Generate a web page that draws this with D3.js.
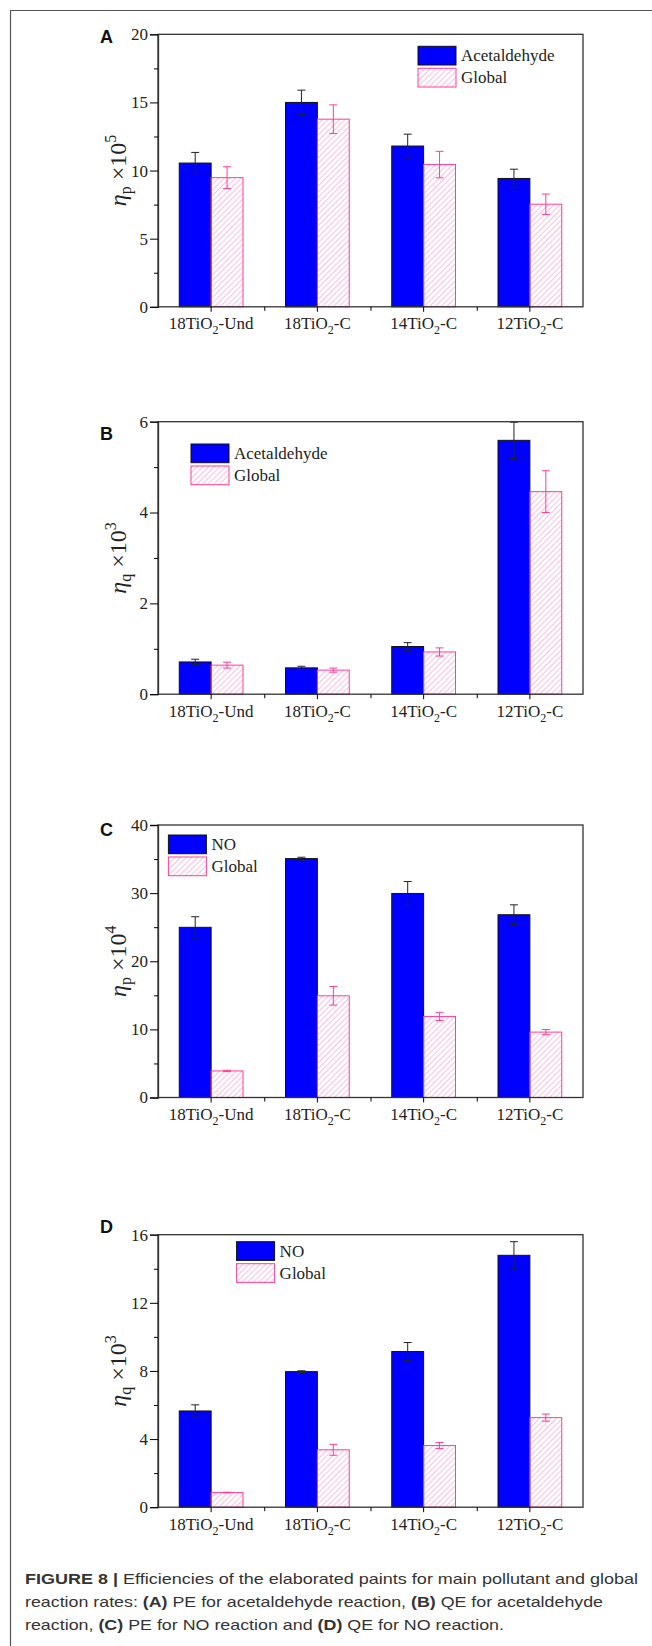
<!DOCTYPE html>
<html>
<head>
<meta charset="utf-8">
<script src="https://cdn.jsdelivr.net/npm/d3@7"></script>
<style>
  body { margin: 0; background: #fff; }
  svg { display: block; }
</style>
</head>
<body>
<div id="fig"></div>
<script>
// categories (x axis), shared by all four panels
var categories = ["18TiO2-Und", "18TiO2-C", "14TiO2-C", "12TiO2-C"];
var seriesKeys = ["main", "global"];

// (A) PE acetaldehyde, x10^5
var peAcetMain = [10.55, 15.0, 11.8, 9.42];
var peAcetMainErr = [0.78, 0.9, 0.87, 0.68];
var peAcetGlobal = [9.48, 13.77, 10.44, 7.53];
var peAcetGlobalErr = [0.8, 1.05, 0.97, 0.75];

// (B) QE acetaldehyde, x10^3
var qeAcetMain = [0.71, 0.58, 1.05, 5.59];
var qeAcetMainErr = [0.06, 0.035, 0.085, 0.4];
var qeAcetGlobal = [0.64, 0.53, 0.93, 4.46];
var qeAcetGlobalErr = [0.065, 0.045, 0.09, 0.46];

// (C) PE NO, x10^4
var peNoMain = [24.98, 35.07, 29.95, 26.83];
var peNoMainErr = [1.55, 0.2, 1.75, 1.45];
var peNoGlobal = [3.9, 14.93, 11.9, 9.6];
var peNoGlobalErr = [0.1, 1.37, 0.6, 0.38];

// (D) QE NO, x10^3
var qeNoMain = [5.65, 7.96, 9.14, 14.79];
var qeNoMainErr = [0.36, 0.05, 0.53, 0.8];
var qeNoGlobal = [0.86, 3.37, 3.62, 5.26];
var qeNoGlobalErr = [0.02, 0.32, 0.18, 0.21];

var captionLines = [
  [["FIGURE 8 | ", true], ["Efficiencies of the elaborated paints for main pollutant and global", false]],
  [["reaction rates: ", false], ["(A)", true], [" PE for acetaldehyde reaction, ", false], ["(B)", true], [" QE for acetaldehyde", false]],
  [["reaction, ", false], ["(C)", true], [" PE for NO reaction and ", false], ["(D)", true], [" QE for NO reaction.", false]]
];

var W = 652, H = 1646;
var serif = "'Liberation Serif', 'Times New Roman', serif";
var sans = "'Liberation Sans', Arial, sans-serif";
var blue = "#0000ff", pink = "#ff3d9a", hatchPink = "#ff7dbd";
var plotLeft = 158, plotRight = 583, plotH = 272.5;

var panels = [
  {letter: "A", top: 34.3, letterY: 43.3, yMax: 20, major: 5, minor: 2.5, sub: "p", exp: "5",
   name: "Acetaldehyde", legX: 418, legY: 46.3,
   main: peAcetMain, mainErr: peAcetMainErr, glob: peAcetGlobal, globErr: peAcetGlobalErr},
  {letter: "B", top: 421.7, letterY: 440, yMax: 6, major: 2, minor: 1, sub: "q", exp: "3",
   name: "Acetaldehyde", legX: 191, legY: 444,
   main: qeAcetMain, mainErr: qeAcetMainErr, glob: qeAcetGlobal, globErr: qeAcetGlobalErr},
  {letter: "C", top: 825, letterY: 836, yMax: 40, major: 10, minor: 5, sub: "p", exp: "4",
   name: "NO", legX: 168.4, legY: 835,
   main: peNoMain, mainErr: peNoMainErr, glob: peNoGlobal, globErr: peNoGlobalErr},
  {letter: "D", top: 1234.7, letterY: 1232.7, yMax: 16, major: 4, minor: 2, sub: "q", exp: "3",
   name: "NO", legX: 236.6, legY: 1241.7,
   main: qeNoMain, mainErr: qeNoMainErr, glob: qeNoGlobal, globErr: qeNoGlobalErr}
];

var svg = d3.select("#fig").append("svg")
    .attr("width", W)
    .attr("height", H);

// hatch pattern for the "Global" bars
svg.append("defs").append("pattern")
    .attr("id", "hatch")
    .attr("patternUnits", "userSpaceOnUse")
    .attr("width", 4)
    .attr("height", 4)
    .attr("patternTransform", "rotate(45)")
  .append("line")
    .attr("x1", 0).attr("y1", 0)
    .attr("x2", 0).attr("y2", 4)
    .attr("stroke", hatchPink)
    .attr("stroke-width", 1);

// figure frame (left + top only, cropped figure box)
svg.append("path")
    .attr("d", "M10.5," + H + "V10.5H" + W)
    .attr("fill", "none")
    .attr("stroke", "#555")
    .attr("stroke-width", 1.2);

var x = d3.scaleBand()
    .domain(categories)
    .range([plotLeft, plotRight]);

var xInner = d3.scaleBand()
    .domain(seriesKeys)
    .range([x.bandwidth() * 0.2, x.bandwidth() * 0.8]);

var xEdges = d3.scaleLinear()
    .domain([0, categories.length])
    .range([plotLeft, plotRight]);

panels.forEach(function(p) {
    var bottom = p.top + plotH;
    var y = d3.scaleLinear().domain([0, p.yMax]).range([bottom, p.top]);
    var g = svg.append("g");

    var rows = categories.map(function(c, i) {
        return {cat: c, main: p.main[i], mainErr: p.mainErr[i], global: p.glob[i], globalErr: p.globErr[i]};
    });

    // bars
    seriesKeys.forEach(function(key) {
        g.selectAll(".bar-" + key)
            .data(rows)
            .enter().append("rect")
            .attr("x", function(d) { return x(d.cat) + xInner(key); })
            .attr("y", function(d) { return y(d[key]); })
            .attr("width", xInner.bandwidth())
            .attr("height", function(d) { return bottom - y(d[key]); })
            .attr("fill", key == "main" ? blue : "url(#hatch)")
            .attr("stroke", key == "main" ? "#111" : pink)
            .attr("stroke-width", 1);
    });

    // error bars
    seriesKeys.forEach(function(key) {
        var col = key == "main" ? "#222" : pink;
        var eb = g.selectAll(".err-" + key)
            .data(rows)
            .enter().append("g")
            .attr("transform", function(d) {
                return "translate(" + (x(d.cat) + xInner(key) + xInner.bandwidth() / 2) + ",0)";
            });
        eb.append("line")
            .attr("y1", function(d) { return y(d[key] - d[key + "Err"]); })
            .attr("y2", function(d) { return y(d[key] + d[key + "Err"]); })
            .attr("stroke", col).attr("stroke-width", 1);
        [-1, 1].forEach(function(s) {
            eb.append("line")
                .attr("x1", -4).attr("x2", 4)
                .attr("y1", function(d) { return y(d[key] + s * d[key + "Err"]); })
                .attr("y2", function(d) { return y(d[key] + s * d[key + "Err"]); })
                .attr("stroke", col).attr("stroke-width", 1);
        });
    });

    // plot box
    g.append("rect")
        .attr("x", plotLeft).attr("y", p.top)
        .attr("width", plotRight - plotLeft).attr("height", plotH)
        .attr("fill", "none")
        .attr("stroke", "#333")
        .attr("stroke-width", 1.3);

    // y axis: major + minor ticks
    var yAxis = g.append("g")
        .attr("transform", "translate(" + plotLeft + ",0)")
        .call(d3.axisLeft(y).tickValues(d3.range(0, p.yMax + 1e-9, p.major))
            .tickSize(8).tickPadding(2).tickFormat(d3.format("d")));
    g.append("g")
        .attr("transform", "translate(" + plotLeft + ",0)")
        .call(d3.axisLeft(y).tickValues(d3.range(p.minor, p.yMax, p.major))
            .tickSize(4).tickFormat(""))
        .call(function(a) { a.select(".domain").remove(); });
    yAxis.select(".domain").attr("stroke", "#333").attr("stroke-width", 1.3);
    yAxis.selectAll("text")
        .attr("font-family", serif)
        .attr("font-size", 17)
        .attr("fill", "#222");

    // x axis: ticks at category centres and at group edges
    var xAxis = g.append("g")
        .attr("transform", "translate(0," + bottom + ")")
        .call(d3.axisBottom(x).tickSize(5).tickSizeOuter(0).tickFormat(""));
    xAxis.select(".domain").remove();
    g.append("g")
        .attr("transform", "translate(0," + bottom + ")")
        .call(d3.axisBottom(xEdges).tickValues(d3.range(1, categories.length)).tickSize(4).tickFormat(""))
        .call(function(a) { a.select(".domain").remove(); });

    // category labels with subscript 2
    var lab = g.selectAll(".xlab")
        .data(categories)
        .enter().append("text")
        .attr("x", function(d) { return x(d) + x.bandwidth() / 2; })
        .attr("y", bottom + 22.5)
        .attr("text-anchor", "middle")
        .attr("font-family", serif)
        .attr("font-size", 17)
        .attr("fill", "#222");
    lab.append("tspan").text(function(d) { return d.split("O2")[0] + "O"; });
    lab.append("tspan").attr("font-size", 12).attr("dy", 5).text("2");
    lab.append("tspan").attr("dy", -5).text(function(d) { return d.split("O2")[1]; });

    // y label
    var yl = g.append("text")
        .attr("transform", "translate(126," + (p.top + plotH / 2) + ") rotate(-90)")
        .attr("text-anchor", "middle")
        .attr("font-family", serif)
        .attr("font-size", 24)
        .attr("fill", "#222");
    yl.append("tspan").attr("font-style", "italic").text("\u03b7");
    yl.append("tspan").attr("font-size", 16).attr("dy", 5).text(p.sub);
    yl.append("tspan").attr("dy", -5).text(" \u00d710");
    yl.append("tspan").attr("font-size", 16).attr("dy", -10).text(p.exp);

    // panel letter
    g.append("text")
        .attr("x", 100).attr("y", p.letterY)
        .attr("font-family", sans)
        .attr("font-weight", "bold")
        .attr("font-size", 18)
        .attr("fill", "#111")
        .text(p.letter);

    // legend
    var leg = g.append("g").attr("transform", "translate(" + p.legX + "," + p.legY + ")");
    [[p.name, blue, "#111"], ["Global", "url(#hatch)", pink]].forEach(function(item, i) {
        leg.append("rect")
            .attr("x", 0).attr("y", i * 22)
            .attr("width", 38).attr("height", 18.7)
            .attr("fill", item[1])
            .attr("stroke", item[2])
            .attr("stroke-width", 1);
        leg.append("text")
            .attr("x", 43).attr("y", i * 22 + 15)
            .attr("font-family", serif)
            .attr("font-size", 17)
            .attr("fill", "#222")
            .text(item[0]);
    });
});

// caption
var capWidths = [613, 578, 479];
var capY = [1584, 1607, 1630];
captionLines.forEach(function(line, i) {
    var t = svg.append("text")
        .attr("x", 25)
        .attr("y", capY[i])
        .attr("font-family", sans)
        .attr("font-size", 15)
        .attr("fill", "#333")
        .attr("textLength", capWidths[i])
        .attr("lengthAdjust", "spacingAndGlyphs");
    line.forEach(function(part) {
        t.append("tspan")
            .attr("font-weight", part[1] ? "bold" : "normal")
            .text(part[0]);
    });
});
</script>
</body>
</html>
